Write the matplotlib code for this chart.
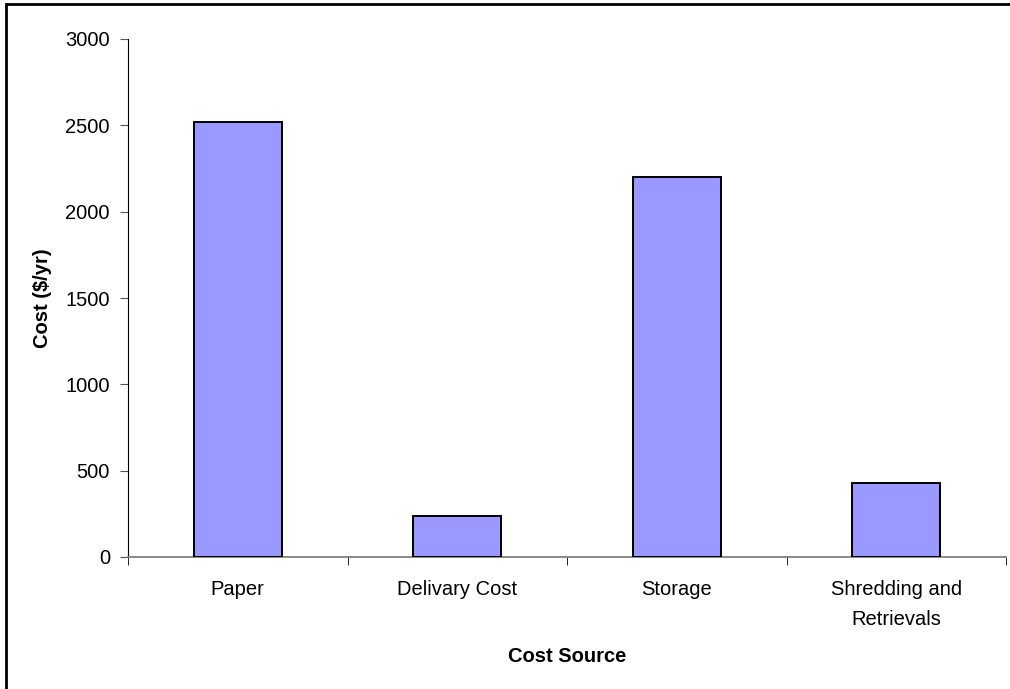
import matplotlib
matplotlib.use("Agg")
import matplotlib.pyplot as plt
from matplotlib.patches import Rectangle

categories = ["Paper", "Delivary Cost", "Storage", "Shredding and\nRetrievals"]
costs = [2520, 240, 2200, 430]
yticks = [0, 500, 1000, 1500, 2000, 2500, 3000]

plt.rcParams["font.family"] = ["Liberation Sans", "DejaVu Sans"]

fig = plt.figure(figsize=(10.1, 6.89), dpi=100)
ax = fig.add_axes([128 / 1010, 1 - 557 / 689, (1006 - 128) / 1010, (557 - 39) / 689])

x = list(range(len(categories)))
ax.bar(x, costs, width=0.4, color="#9999ff", edgecolor="black", linewidth=1.4, zorder=3)

ax.set_xlim(-0.5, len(categories) - 0.5)
ax.set_ylim(0, 3000)
ax.set_yticks(yticks)
ax.set_xticks(x)
ax.set_xticklabels(categories, fontsize=14.5, linespacing=1.75)
ax.set_xticks([i - 0.5 for i in range(len(categories) + 1)], minor=True)
ax.tick_params(axis="x", which="major", length=0, pad=16.5)
ax.tick_params(axis="x", which="minor", length=6, direction="out", color="black")
ax.tick_params(axis="y", length=6, direction="out", color="#555555", labelsize=14.5, pad=7)

for s in ("top", "right"):
    ax.spines[s].set_visible(False)
ax.spines["left"].set_color("black")
ax.spines["bottom"].set_color("#808080")
ax.spines["bottom"].set_linewidth(1.3)

ax.set_ylabel("Cost ($/yr)", fontsize=14.5, fontweight="bold", va="center")
ax.set_xlabel("Cost Source", fontsize=14.5, fontweight="bold", va="center")
ax.yaxis.set_label_coords(-0.097, 0.5)
ax.xaxis.set_label_coords(0.5, -0.192)

fig.patches.append(Rectangle((6 / 1010, -0.01), 1.0, 1 - 4 / 689 + 0.01,
                             transform=fig.transFigure, fill=False,
                             edgecolor="black", linewidth=2))

fig.savefig("out.png", dpi=100)
